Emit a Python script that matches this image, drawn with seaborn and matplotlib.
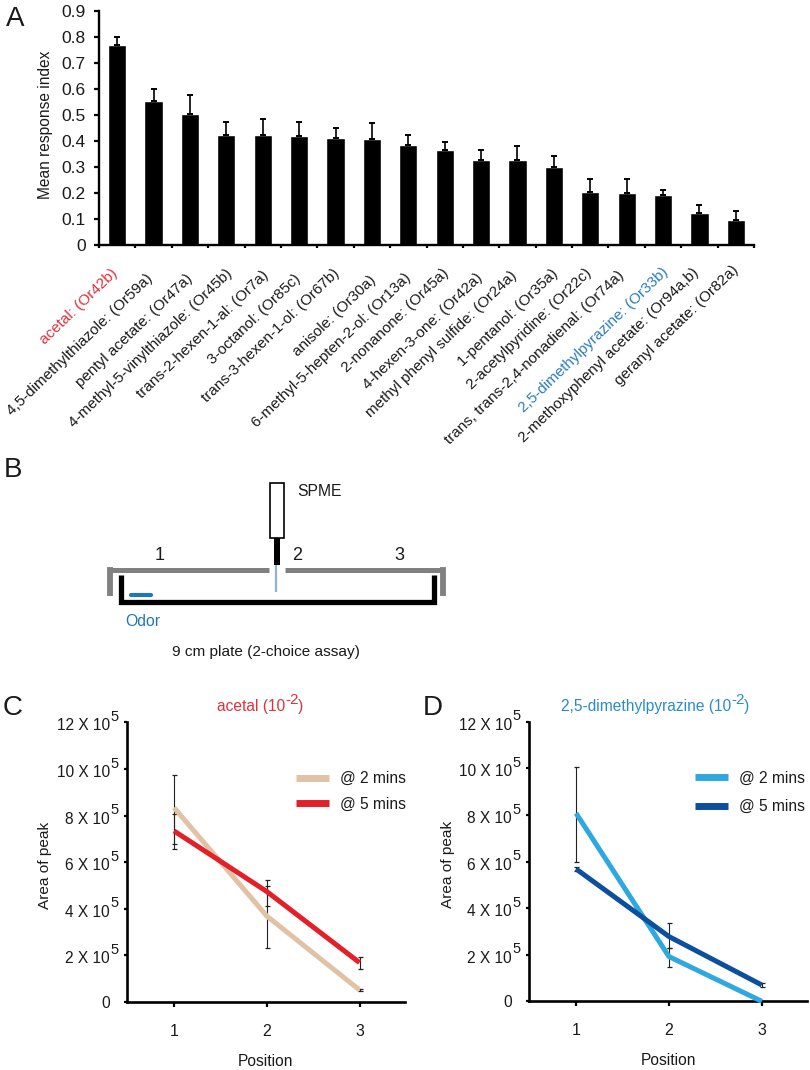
import matplotlib
matplotlib.use('Agg')
import matplotlib.pyplot as plt
from matplotlib.patches import Rectangle
from matplotlib.transforms import ScaledTranslation
import numpy as np
import pandas as pd
import seaborn as sns

# Panel A data
odors = ['acetal: (Or42b)', '4,5-dimethylthiazole: (Or59a)', 'pentyl acetate: (Or47a)',
         '4-methyl-5-vinylthiazole: (Or45b)', 'trans-2-hexen-1-al: (Or7a)', '3-octanol: (Or85c)',
         'trans-3-hexen-1-ol: (Or67b)', 'anisole: (Or30a)', '6-methyl-5-hepten-2-ol: (Or13a)',
         '2-nonanone: (Or45a)', '4-hexen-3-one: (Or42a)', 'methyl phenyl sulfide: (Or24a)',
         '1-pentanol: (Or35a)', '2-acetylpyridine: (Or22c)', 'trans, trans-2,4-nonadienal: (Or74a)',
         '2,5-dimethylpyrazine: (Or33b)', '2-methoxyphenyl acetate: (Or94a,b)', 'geranyl acetate: (Or82a)']
response = [0.77, 0.553, 0.505, 0.423, 0.423, 0.418, 0.41, 0.408, 0.383,
            0.364, 0.326, 0.326, 0.30, 0.204, 0.201, 0.191, 0.124, 0.097]
response_top = [0.801, 0.599, 0.577, 0.474, 0.483, 0.474, 0.449, 0.468, 0.423,
                0.397, 0.365, 0.379, 0.344, 0.255, 0.255, 0.213, 0.155, 0.132]

# Panels C and D data (units of 1e5)
positions = [1, 2, 3]
acetal_2 = [8.34, 3.69, 0.515]
acetal_2_low = [6.80, 2.30, 0.47]
acetal_2_high = [9.74, 4.98, 0.56]
acetal_5 = [7.34, 4.74, 1.69]
acetal_5_low = [6.55, 4.13, 1.42]
acetal_5_high = [8.08, 5.24, 1.92]
pyrazine_2 = [8.07, 1.92, 0.0]
pyrazine_2_low = [5.97, 1.46, 0.0]
pyrazine_2_high = [10.07, 2.30, 0.0]
pyrazine_5 = [5.68, 2.78, 0.70]
pyrazine_5_low = [5.58, 2.30, 0.60]
pyrazine_5_high = [5.75, 3.35, 0.77]
y_ticks = [0, 2, 4, 6, 8, 10, 12]
times = ['@ 2 mins', '@ 5 mins']

W, H = 810, 1070
RED = '#e0303c'
BLUE = '#2a7ebd'
TEXT = '#1a1a1a'

sns.set_theme(style='ticks')
plt.rcParams['font.family'] = ['Liberation Sans', 'DejaVu Sans']
plt.rcParams['text.color'] = TEXT
plt.rcParams['axes.labelcolor'] = TEXT
plt.rcParams['xtick.labelcolor'] = TEXT
plt.rcParams['ytick.labelcolor'] = TEXT


def px_axes(fig, left, top, right, bottom):
    return fig.add_axes([left / W, 1 - bottom / H, (right - left) / W, (bottom - top) / H])


fig = plt.figure(figsize=(W / 100, H / 100), dpi=100)

# A: bar chart
ax_a = px_axes(fig, 99, 11, 754, 245)
df_a = pd.DataFrame({'odor': odors, 'response': response})
sns.barplot(data=df_a, x='odor', y='response', color='black', saturation=1, width=0.5,
            errorbar=None, ax=ax_a)
x_a = np.arange(len(odors))
ax_a.errorbar(x_a, response, yerr=[np.zeros(len(odors)), np.array(response_top) - np.array(response)],
              fmt='none', ecolor='black', elinewidth=1.2, capsize=2.2, capthick=1.4)
ax_a.set_xlim(-0.5, 17.5)
ax_a.set_ylim(0, 0.9)
ax_a.set_yticks(np.arange(0, 1.0, 0.1))
ax_a.set_yticklabels(['0', '0.1', '0.2', '0.3', '0.4', '0.5', '0.6', '0.7', '0.8', '0.9'], fontsize=12.5)
ax_a.set_xticks(x_a)
ax_a.set_xticklabels(odors, rotation=44, ha='right', va='center', rotation_mode='anchor', fontsize=11)
ax_a.set_xticks(np.arange(-0.5, 18, 1), minor=True)
ax_a.tick_params(axis='x', which='major', length=0, pad=21)
ax_a.tick_params(axis='x', which='minor', length=2.5, width=1.6, color='black')
ax_a.tick_params(axis='y', length=3.5, width=1.6, color='black', pad=6)
ax_a.set_xlabel('')
ax_a.set_ylabel('Mean response index', fontsize=11.2)
ax_a.yaxis.set_label_coords((53.5 - 99) / 655, 0.515)
# the labels were placed by hand in the original, nudge each one (pixels)
nudge_x = [2, 1, 4, 8, 8, 3, 6, 6, 4, 6, 3, 1, 6, 3, -1, 7, 1, 5]
nudge_y = [3, -2, -2, 3, 1, -2, 3, -4, -1, 3, -1, 1, 3, 3, 1, 4, 4, 6]
for lab, dx, dy in zip(ax_a.get_xticklabels(), nudge_x, nudge_y):
    lab.set_transform(lab.get_transform() + ScaledTranslation((dx - 4) / 100, dy / 100, fig.dpi_scale_trans))
ax_a.get_xticklabels()[0].set_color(RED)
ax_a.get_xticklabels()[15].set_color(BLUE)
sns.despine(ax=ax_a)
for side in ['left', 'bottom']:
    ax_a.spines[side].set_linewidth(1.7)
    ax_a.spines[side].set_color('black')


def draw_lines(ax, val_2, low_2, high_2, val_5, low_5, high_5, colors, legend_anchor, spacing, ylabel_x):
    df = pd.DataFrame({'position': positions * 2,
                       'area': val_2 + val_5,
                       'time': [times[0]] * 3 + [times[1]] * 3})
    for val, low, high in [(val_2, low_2, high_2), (val_5, low_5, high_5)]:
        ax.errorbar(positions, val, yerr=[np.array(val) - np.array(low), np.array(high) - np.array(val)],
                    fmt='none', ecolor='#222222', elinewidth=0.8, capsize=1.8, capthick=0.9, zorder=1)
    sns.lineplot(data=df, x='position', y='area', hue='time', palette=colors, linewidth=3.6,
                 errorbar=None, ax=ax, zorder=3, clip_on=False, solid_capstyle='butt')
    ax.set_xlim(0.49, 3.49)
    ax.set_ylim(0, 12)
    ax.set_xticks(positions)
    ax.set_xticklabels(['1', '2', '3'], fontsize=11.5)
    ax.set_yticks(y_ticks)
    ax.set_yticklabels(['0'] + ['%d X 10' % t for t in y_ticks[1:]], fontsize=11.2)
    ax.tick_params(axis='x', length=3.5, width=1.6, color='black', pad=12)
    ax.tick_params(axis='y', length=2.5, width=1.6, color='black', pad=9.5)
    # superscripts of the y tick labels, bigger than mathtext would give
    for t, lab in zip(y_ticks, ax.get_yticklabels()):
        if t > 0:
            lab.set_transform(lab.get_transform() + ScaledTranslation(0, -0.02, fig.dpi_scale_trans))
            ax.annotate('5', xy=(0, t), xycoords=ax.get_yaxis_transform(), xytext=(-12, 3.8),
                        textcoords='offset points', ha='left', va='center', fontsize=10.5)
    ax.set_xlabel('Position', fontsize=11.2, labelpad=11)
    ax.set_ylabel('Area of peak', fontsize=11.1)
    ax.yaxis.set_label_coords(ylabel_x, 0.49)
    sns.despine(ax=ax)
    for side in ['left', 'bottom']:
        ax.spines[side].set_linewidth(1.9)
        ax.spines[side].set_color('black')
    leg = ax.legend(loc='upper left', bbox_to_anchor=legend_anchor, frameon=False, fontsize=11.2,
                    handlelength=2.1, handletextpad=0.72, labelspacing=spacing, borderpad=0, borderaxespad=0)
    for line in leg.get_lines():
        line.set_linewidth(5)
        line.set_solid_capstyle('butt')


ax_c = px_axes(fig, 126.7, 722.3, 405, 1002)
draw_lines(ax_c, acetal_2, acetal_2_low, acetal_2_high, acetal_5, acetal_5_low, acetal_5_high,
           ['#e2c2a4', '#e32028'], (0.608, 0.825), 0.68, (52 - 126.7) / 278.3)

ax_d = px_axes(fig, 528.7, 721.7, 807.3, 1001.3)
draw_lines(ax_d, pyrazine_2, pyrazine_2_low, pyrazine_2_high, pyrazine_5, pyrazine_5_low, pyrazine_5_high,
           ['#2fa8e0', '#0b4f9e'], (0.597, 0.825), 0.86, (455 - 528.7) / 278.6)

# overlay in image pixels for the B schematic, C/D titles and panel letters
ov = fig.add_axes([0, 0, 1, 1], zorder=10)
ov.set_xlim(0, W)
ov.set_ylim(H, 0)
ov.axis('off')

GREY = '#808080'
ov.plot([112, 269], [570, 570], color=GREY, lw=3.6, solid_capstyle='butt')
ov.plot([285, 444], [570, 570], color=GREY, lw=3.6, solid_capstyle='butt')
ov.plot([110, 110, 113], [596, 570, 570], color=GREY, lw=4.2, solid_joinstyle='miter', solid_capstyle='butt')
ov.plot([443, 443, 440], [596, 570, 570], color=GREY, lw=4.2, solid_joinstyle='miter', solid_capstyle='butt')
ov.plot([121, 121, 434, 434], [575, 602, 602, 575], color='black', lw=3.8,
        solid_joinstyle='miter', solid_capstyle='butt')
ov.plot([276, 276], [565, 592], color='#8fb4dc', lw=1.6, solid_capstyle='butt')
ov.plot([131, 151], [595, 595], color='#1f75b8', lw=3, solid_capstyle='round')
ov.add_patch(Rectangle((269.5, 482.5), 14.5, 55, facecolor='white', edgecolor='black', lw=1.2))
ov.add_patch(Rectangle((273.7, 537.5), 6.3, 27.5, facecolor='black', edgecolor='none'))
for label, x, y in [('1', 160, 556), ('2', 297, 556), ('3', 399, 555)]:
    ov.text(x, y, label, ha='center', va='center', fontsize=13)
ov.text(297, 492, 'SPME', ha='left', va='center', fontsize=11.3)
ov.text(125, 622, 'Odor', ha='left', va='center', fontsize=11.3, color='#1f75b8')
ov.text(266, 652, '9 cm plate (2-choice assay)', ha='center', va='center', fontsize=11.1)

ov.text(285, 706, 'acetal (10', ha='right', va='center', fontsize=11.2, color=RED)
ov.text(292, 700.5, '-2', ha='center', va='center', fontsize=11, color=RED)
ov.text(298, 706, ')', ha='left', va='center', fontsize=11.2, color=RED)
ov.text(731, 706, '2,5-dimethylpyrazine (10', ha='right', va='center', fontsize=11.2, color='#2b8cc4')
ov.text(738, 700.5, '-2', ha='center', va='center', fontsize=11, color='#2b8cc4')
ov.text(744, 706, ')', ha='left', va='center', fontsize=11.2, color='#2b8cc4')

for label, x, y in [('A', 6, 19), ('B', 4, 470), ('C', 3, 708), ('D', 423, 708)]:
    ov.text(x, y, label, ha='left', va='center', fontsize=20)

fig.savefig('out.png', dpi=100)
